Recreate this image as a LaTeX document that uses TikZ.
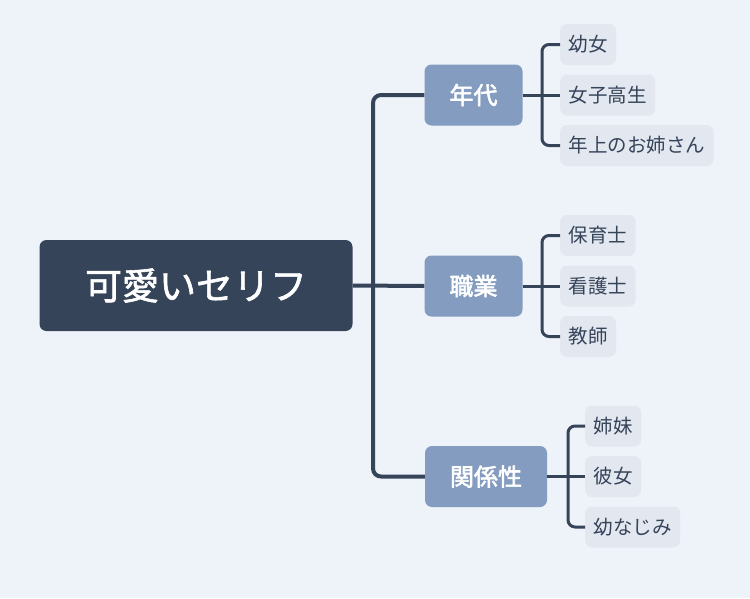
\documentclass[tikz,border=0pt]{standalone}
\usepackage{fontspec}
\newfontfamily\cjk{Noto Sans CJK JP}
\newfontfamily\cjkmed{Noto Sans CJK JP}[FakeBold=1.6]
\newfontfamily\cjkfat{Noto Sans CJK JP}[FakeBold=2.4]
\usepackage{tikz}
\usetikzlibrary{positioning,calc}
\definecolor{bg}{HTML}{EEF2F9}
\definecolor{ink}{HTML}{36445A}
\definecolor{mid}{HTML}{849CC0}
\definecolor{pale}{HTML}{E3E7EF}
\tikzset{
  rootbox/.style={fill=ink,rounded corners=7pt,minimum width=313pt,minimum height=91pt,
    text=white,font=\cjkmed\fontsize{37}{37}\selectfont,inner sep=0pt},
  topic/.style={fill=mid,rounded corners=7pt,minimum height=61pt,inner xsep=25pt,inner ysep=0pt,
    text=white,font=\cjkfat\fontsize{24}{24}\selectfont},
  leaf/.style={fill=pale,rounded corners=7pt,minimum height=41pt,inner xsep=8.5pt,inner ysep=0pt,
    anchor=west,text=ink,font=\cjk\fontsize{19.5}{19.5}\selectfont},
  trunk/.style={draw=ink,line width=4pt,rounded corners=8pt},
  twig/.style={draw=ink,line width=3pt,rounded corners=7pt},
}
\begin{document}
\begin{tikzpicture}[x=1pt,y=-1pt]
\fill[bg] (0,0) rectangle (750,598);
\useasboundingbox (0,0) rectangle (750,598);
% root and topics
\node[rootbox] (root) at (196,285.5) {可愛いセリフ};
\node[topic] (age) at (473.5,95) {年代};
\node[topic] (job) at (473.5,286) {職業};
\node[topic] (rel) at (486,476.5) {関係性};
% leaves
\node[leaf] (a1) at (560,44.5) {幼女};
\node[leaf] (a2) at (560,95) {女子高生};
\node[leaf] (a3) at (560,145.5) {年上のお姉さん};
\node[leaf] (j1) at (560,235.5) {保育士};
\node[leaf] (j2) at (560,286) {看護士};
\node[leaf] (j3) at (560,336.5) {教師};
\node[leaf] (r1) at (585,426) {姉妹};
\node[leaf] (r2) at (585,476.5) {彼女};
\node[leaf] (r3) at (585,527) {幼なじみ};
% connectors
\coordinate (tk) at (373,286);
\coordinate (ka) at (542,95);
\coordinate (kj) at (542,286);
\coordinate (kr) at (568,476.5);
\draw[trunk] (age.west) -| (tk) |- (rel.west);
\draw[trunk] (root.east) -- (job.west);
\draw[twig] (a1.west) -| (ka) |- (a3.west);
\draw[twig] (age.east) -- (a2.west);
\draw[twig] (j1.west) -| (kj) |- (j3.west);
\draw[twig] (job.east) -- (j2.west);
\draw[twig] (r1.west) -| (kr) |- (r3.west);
\draw[twig] (rel.east) -- (r2.west);
\end{tikzpicture}
\end{document}
